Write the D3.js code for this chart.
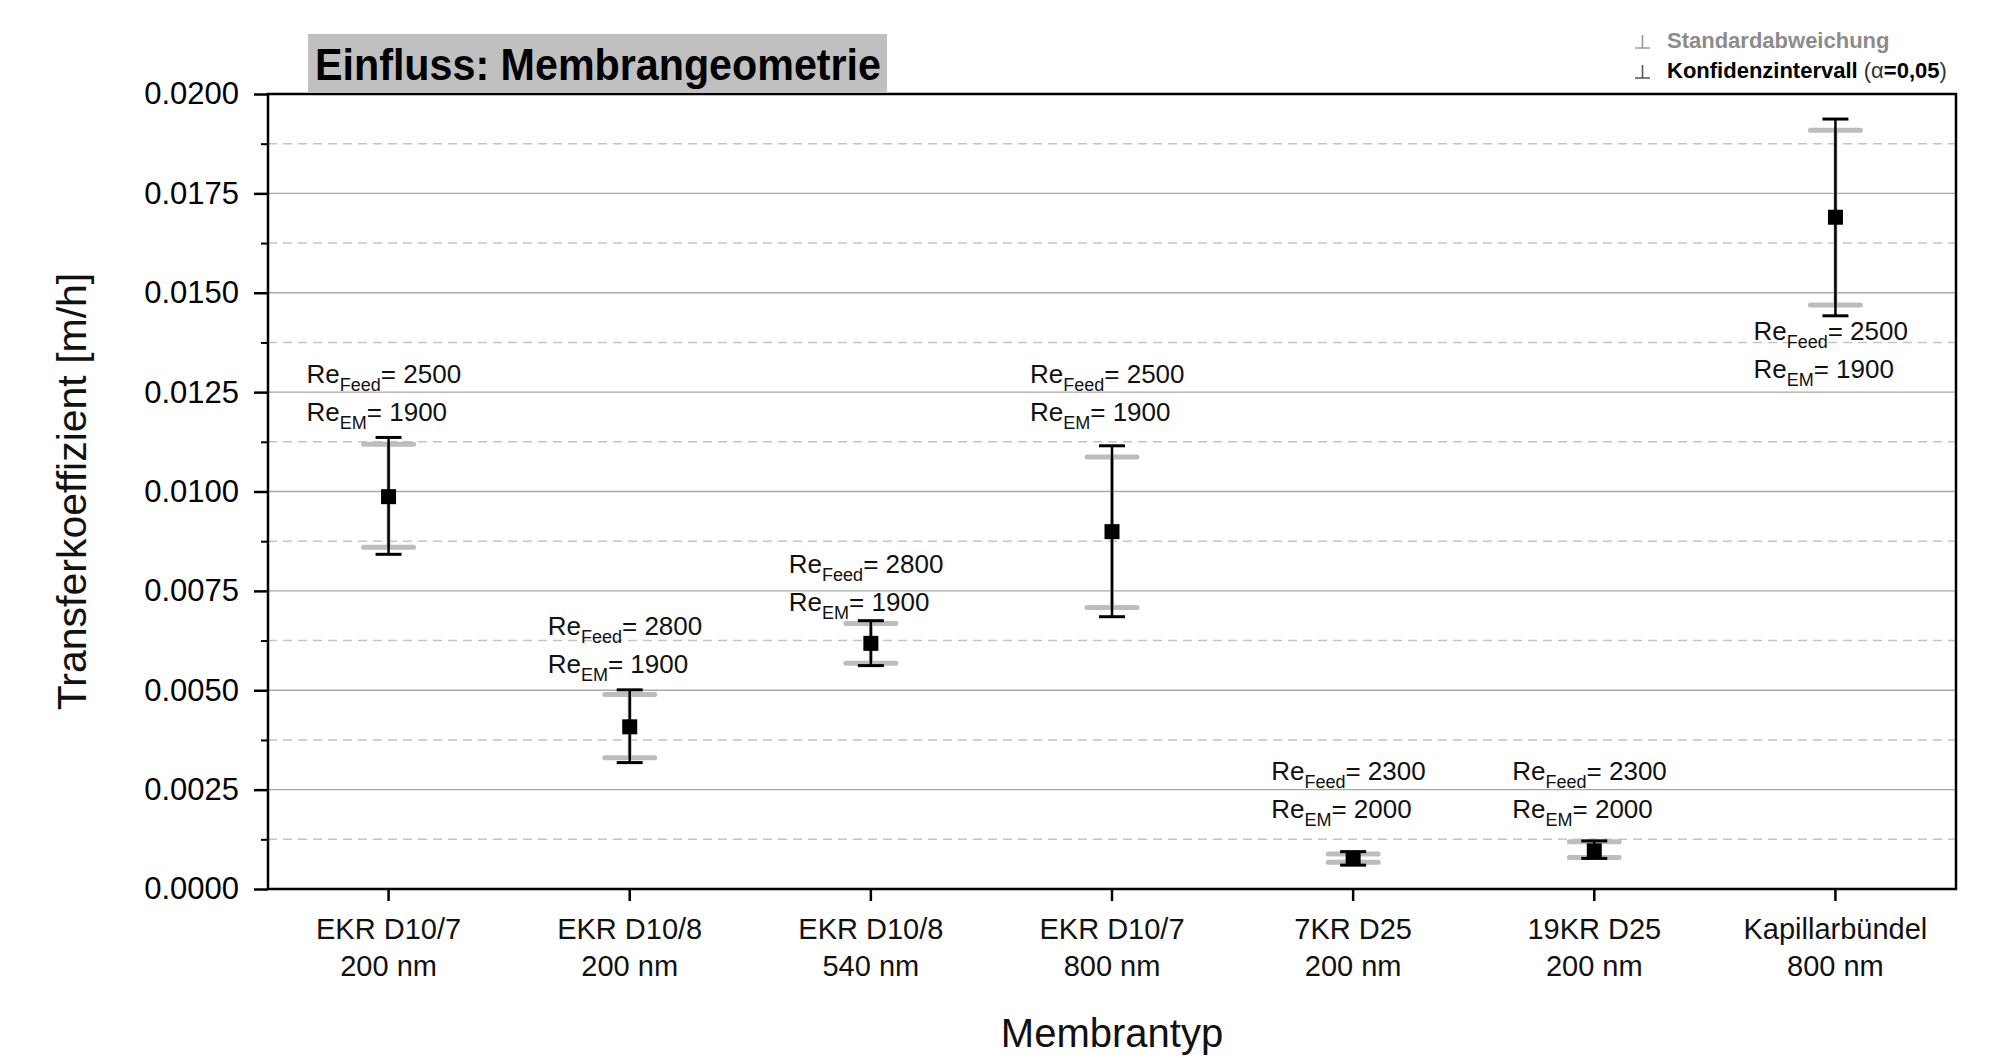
<!DOCTYPE html>
<html>
<head>
<meta charset="utf-8">
<script src="https://cdn.jsdelivr.net/npm/d3@7"></script>
<style>
  html, body { margin: 0; padding: 0; background: #fff; }
  svg { display: block; font-family: "Liberation Sans", Arial, sans-serif; }
</style>
</head>
<body>
<svg id="chart"></svg>
<script>
// Membrantypen (zwei Zeilen pro Kategorie)
const membranes = ["EKR D10/7", "EKR D10/8", "EKR D10/8", "EKR D10/7", "7KR D25", "19KR D25", "Kapillarbündel"];
const poreSizes = ["200 nm", "200 nm", "540 nm", "800 nm", "200 nm", "200 nm", "800 nm"];

// Mittelwerte Transferkoeffizient [m/h]
const means = [0.00987, 0.00408, 0.00618, 0.00899, 0.00077, 0.00096, 0.01690];
// Konfidenzintervall (alpha = 0,05)
const ciLow = [0.00842, 0.00318, 0.00562, 0.00685, 0.00060, 0.00077, 0.01442];
const ciHigh = [0.01136, 0.00501, 0.00675, 0.01115, 0.00094, 0.00121, 0.01937];
// Standardabweichung
const sdLow = [0.00860, 0.00330, 0.00568, 0.00708, 0.00067, 0.00079, 0.01469];
const sdHigh = [0.01119, 0.00489, 0.00668, 0.01087, 0.00088, 0.00119, 0.01909];

// Reynolds-Zahlen und Lage der Beschriftung (Datenwert)
const reFeed = [2500, 2800, 2800, 2500, 2300, 2300, 2500];
const reEM = [1900, 1900, 1900, 1900, 2000, 2000, 1900];
const labelY = [0.01273, 0.00639, 0.00795, 0.01273, 0.00274, 0.00274, 0.01381];

// Achsenticks
const yTicks = [0, 0.0025, 0.005, 0.0075, 0.01, 0.0125, 0.015, 0.0175, 0.02];
const yMinorTicks = [0.00125, 0.00375, 0.00625, 0.00875, 0.01125, 0.01375, 0.01625, 0.01875];

const width = 1990, height = 1058;
const margin = { left: 268, right: 34, top: 94, bottom: 169 };

const svg = d3.select("#chart").attr("width", width).attr("height", height);

const x = d3.scaleBand()
  .domain(d3.range(membranes.length))
  .range([margin.left, width - margin.right]);

const y = d3.scaleLinear()
  .domain([0, 0.02])
  .range([height - margin.bottom, margin.top]);

const cx = i => x(i) + x.bandwidth() / 2;
const x0 = margin.left, x1 = width - margin.right;
const y0 = height - margin.bottom, y1 = margin.top;

// Gitterlinien
svg.append("g").selectAll("line")
  .data(yTicks.slice(1, -1))
  .join("line")
  .attr("x1", x0).attr("x2", x1)
  .attr("y1", d => y(d)).attr("y2", d => y(d))
  .attr("stroke", "#a8a8a8").attr("stroke-width", 1.3);

svg.append("g").selectAll("line")
  .data(yMinorTicks)
  .join("line")
  .attr("x1", x0).attr("x2", x1)
  .attr("y1", d => y(d)).attr("y2", d => y(d))
  .attr("stroke", "#c4c4c4").attr("stroke-width", 1.5)
  .attr("stroke-dasharray", "9,6");

// Y-Achse
const yAxis = svg.append("g")
  .attr("transform", `translate(${x0},0)`)
  .call(d3.axisLeft(y).tickValues(yTicks).tickFormat(d3.format(".4f")).tickSize(14).tickPadding(15));
yAxis.select(".domain").remove();
yAxis.selectAll(".tick line").attr("stroke", "#000").attr("stroke-width", 2.5);
yAxis.selectAll(".tick text")
  .attr("font-size", 31).attr("fill", "#000")
  .attr("font-family", "Liberation Sans, Arial, sans-serif");

svg.append("g")
  .attr("transform", `translate(${x0},0)`)
  .call(d3.axisLeft(y).tickValues(yMinorTicks).tickSize(7).tickFormat(""))
  .call(g => g.select(".domain").remove())
  .selectAll(".tick line").attr("stroke", "#000").attr("stroke-width", 2);

// X-Achse
const xAxis = svg.append("g")
  .attr("transform", `translate(0,${y0})`)
  .call(d3.axisBottom(x).tickSize(12).tickFormat(""));
xAxis.select(".domain").remove();
xAxis.selectAll(".tick line").attr("stroke", "#000").attr("stroke-width", 2.5);

const xLabels = svg.append("g").selectAll("text")
  .data(membranes)
  .join("text")
  .attr("x", (d, i) => cx(i))
  .attr("text-anchor", "middle")
  .attr("font-size", 29)
  .attr("fill", "#111");
xLabels.append("tspan").attr("x", (d, i) => cx(i)).attr("y", 939).text(d => d);
xLabels.append("tspan").attr("x", (d, i) => cx(i)).attr("y", 976).text((d, i) => poreSizes[i]);

// Rahmen
svg.append("rect")
  .attr("x", x0).attr("y", y1)
  .attr("width", x1 - x0).attr("height", y0 - y1)
  .attr("fill", "none").attr("stroke", "#000").attr("stroke-width", 2.5);

// Standardabweichung (grau)
const sdCap = 25;
const sd = svg.append("g").selectAll("g")
  .data(means)
  .join("g");
sd.append("line")
  .attr("x1", (d, i) => cx(i)).attr("x2", (d, i) => cx(i))
  .attr("y1", (d, i) => y(sdLow[i])).attr("y2", (d, i) => y(sdHigh[i]))
  .attr("stroke", "#bdbdbd").attr("stroke-width", 4);
sd.append("line")
  .attr("x1", (d, i) => cx(i) - sdCap).attr("x2", (d, i) => cx(i) + sdCap)
  .attr("y1", (d, i) => y(sdHigh[i])).attr("y2", (d, i) => y(sdHigh[i]))
  .attr("stroke", "#bdbdbd").attr("stroke-width", 5).attr("stroke-linecap", "round");
sd.append("line")
  .attr("x1", (d, i) => cx(i) - sdCap).attr("x2", (d, i) => cx(i) + sdCap)
  .attr("y1", (d, i) => y(sdLow[i])).attr("y2", (d, i) => y(sdLow[i]))
  .attr("stroke", "#bdbdbd").attr("stroke-width", 5).attr("stroke-linecap", "round");

// Konfidenzintervall (schwarz)
const ciCap = 13;
const ci = svg.append("g").selectAll("g")
  .data(means)
  .join("g");
ci.append("line")
  .attr("x1", (d, i) => cx(i)).attr("x2", (d, i) => cx(i))
  .attr("y1", (d, i) => y(ciLow[i])).attr("y2", (d, i) => y(ciHigh[i]))
  .attr("stroke", "#000").attr("stroke-width", 2.5);
ci.append("line")
  .attr("x1", (d, i) => cx(i) - ciCap).attr("x2", (d, i) => cx(i) + ciCap)
  .attr("y1", (d, i) => y(ciHigh[i])).attr("y2", (d, i) => y(ciHigh[i]))
  .attr("stroke", "#000").attr("stroke-width", 3);
ci.append("line")
  .attr("x1", (d, i) => cx(i) - ciCap).attr("x2", (d, i) => cx(i) + ciCap)
  .attr("y1", (d, i) => y(ciLow[i])).attr("y2", (d, i) => y(ciLow[i]))
  .attr("stroke", "#000").attr("stroke-width", 3);

// Mittelwerte
const ms = 15;
svg.append("g").selectAll("rect")
  .data(means)
  .join("rect")
  .attr("x", (d, i) => cx(i) - ms / 2)
  .attr("y", d => y(d) - ms / 2)
  .attr("width", ms).attr("height", ms)
  .attr("fill", "#000");

// Reynolds-Beschriftung
function reLabel(g, sub, val, i, dyPx) {
  const t = g.append("text")
    .attr("x", cx(i) - 82)
    .attr("y", y(labelY[i]) + dyPx)
    .attr("font-size", 26)
    .attr("fill", "#111");
  t.append("tspan").text("Re");
  t.append("tspan").attr("font-size", 18).attr("dy", 8).text(sub);
  t.append("tspan").attr("dy", -8).text("= " + val);
}
const ann = svg.append("g");
means.forEach((d, i) => {
  reLabel(ann, "Feed", reFeed[i], i, 0);
  reLabel(ann, "EM", reEM[i], i, 38);
});

// Achsentitel
svg.append("text")
  .attr("transform", `translate(86,${(y0 + y1) / 2}) rotate(-90)`)
  .attr("text-anchor", "middle")
  .attr("font-size", 41)
  .attr("fill", "#111")
  .text("Transferkoeffizient [m/h]");

svg.append("text")
  .attr("x", (x0 + x1) / 2)
  .attr("y", 1047)
  .attr("text-anchor", "middle")
  .attr("font-size", 40)
  .attr("fill", "#111")
  .text("Membrantyp");

// Titel
svg.append("rect")
  .attr("x", 308).attr("y", 34)
  .attr("width", 579).attr("height", 58)
  .attr("fill", "#c0c0c0");
svg.append("text")
  .attr("x", 315).attr("y", 80)
  .attr("font-size", 44)
  .attr("font-weight", "bold")
  .attr("textLength", 566)
  .attr("lengthAdjust", "spacingAndGlyphs")
  .attr("fill", "#000")
  .text("Einfluss: Membrangeometrie");

// Legende
const legend = svg.append("g");
const legendRows = [
  { y: 48, color: "#8c8c8c", sym: "#9a9a9a" },
  { y: 78, color: "#000", sym: "#555" }
];
legendRows.forEach(r => {
  legend.append("path")
    .attr("d", `M1635,${r.y} H1650 M1642.5,${r.y} V${r.y - 13}`)
    .attr("stroke", r.sym).attr("stroke-width", 1.6).attr("fill", "none");
});
legend.append("text")
  .attr("x", 1667).attr("y", legendRows[0].y)
  .attr("font-size", 22).attr("font-weight", "bold")
  .attr("fill", legendRows[0].color)
  .text("Standardabweichung");
const l2 = legend.append("text")
  .attr("x", 1667).attr("y", legendRows[1].y)
  .attr("font-size", 22).attr("font-weight", "bold")
  .attr("fill", legendRows[1].color);
l2.append("tspan").text("Konfidenzintervall ");
l2.append("tspan").attr("font-weight", "normal").attr("fill", "#333").text("(α");
l2.append("tspan").text("=0,05");
l2.append("tspan").attr("font-weight", "normal").attr("fill", "#333").text(")");
</script>
</body>
</html>
